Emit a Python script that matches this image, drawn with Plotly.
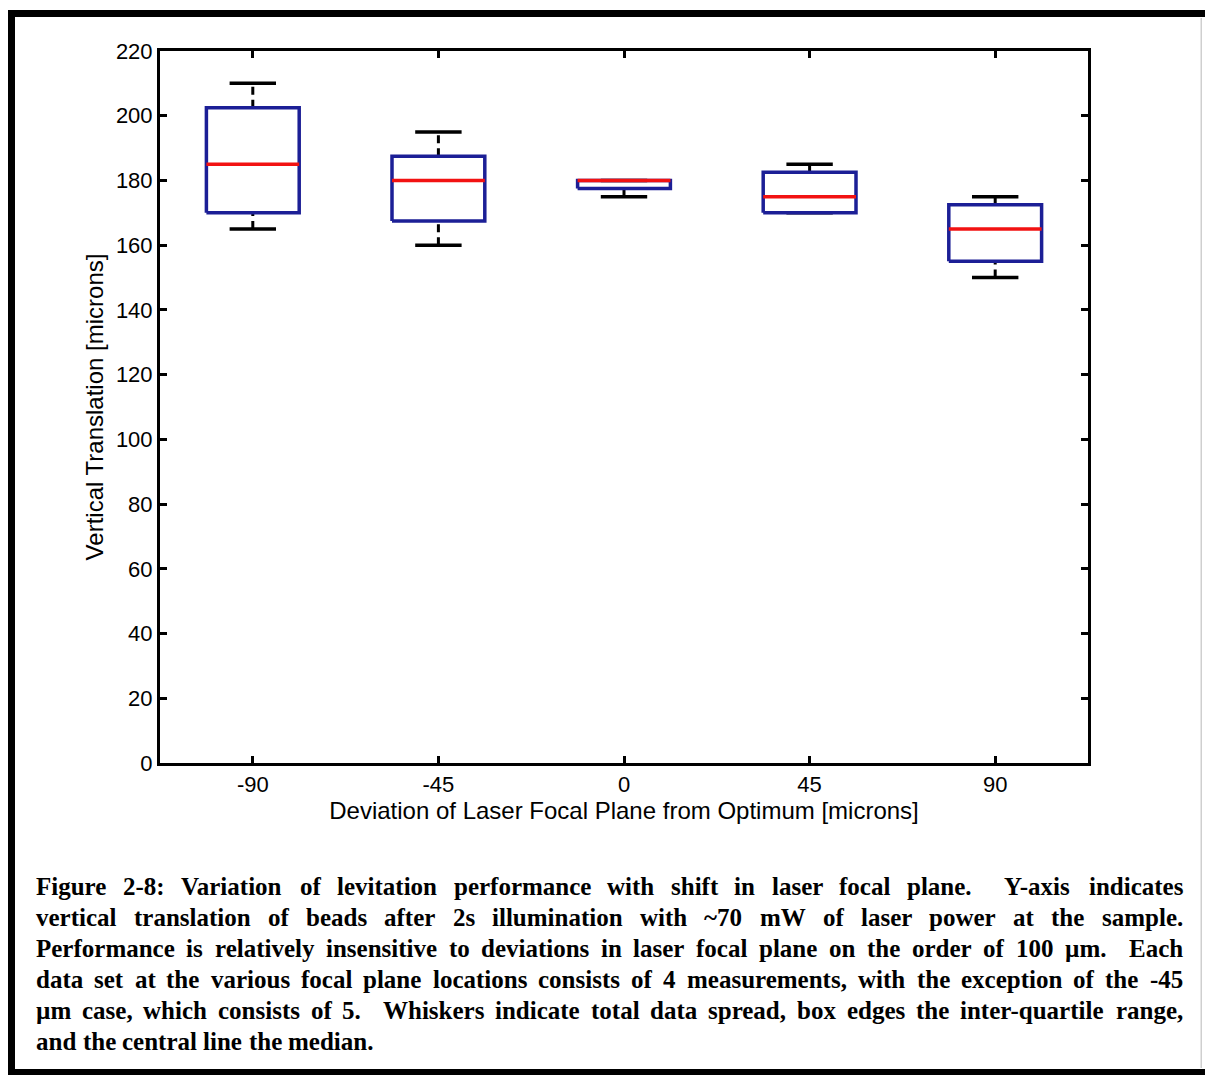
import plotly.graph_objects as go

# ---------------- data ----------------
positions = ["-90", "-45", "0", "45", "90"]
lower_whisker = [165, 160, 175, 170, 150]
q1 = [170, 167.5, 177.5, 170, 155]
median = [185, 180, 180, 175, 165]
q3 = [202.5, 187.5, 180, 182.5, 172.5]
upper_whisker = [210, 195, 180, 185, 175]

y_ticks = [0, 20, 40, 60, 80, 100, 120, 140, 160, 180, 200, 220]

x_title = "Deviation of Laser Focal Plane from Optimum [microns]"
y_title = "Vertical Translation [microns]"

caption_lines = [
    "Figure 2-8: Variation of levitation performance with shift in laser focal plane.  Y-axis indicates",
    "vertical translation of beads after 2s illumination with ~70 mW of laser power at the sample.",
    "Performance is relatively insensitive to deviations in laser focal plane on the order of 100 \u00b5m.  Each",
    "data set at the various focal plane locations consists of 4 measurements, with the exception of the -45",
    "\u00b5m case, which consists of 5.  Whiskers indicate total data spread, box edges the inter-quartile range,",
    "and the central line the median.",
]

# ---------------- styling / layout constants ----------------
W, H = 1205, 1075
L, R, T, B = 160, 1088, 51, 763          # plot area in page pixels
BOX_HALF = 0.25
CAP_HALF = 0.125
BOX_COLOR = "#1c1f96"
MED_COLOR = "#f21212"
TICK_FONT = dict(family="Liberation Sans, Arial, sans-serif", size=22, color="black")
TITLE_FONT = dict(family="Liberation Sans, Arial, sans-serif", size=24, color="black")


def px_x(p):
    return (p - L) / (R - L)


def px_y(p):
    return (B - p) / (B - T)


fig = go.Figure()
xs = list(range(1, len(positions) + 1))

# whiskers (dashed)
for xc, lw, a, b, uw in zip(xs, lower_whisker, q1, q3, upper_whisker):
    for y0, y1 in ((lw, a), (b, uw)):
        fig.add_trace(go.Scatter(x=[xc, xc], y=[y0, y1], mode="lines",
                                 line=dict(color="black", width=3, dash="8px,5px"),
                                 hoverinfo="skip", showlegend=False))
# caps
for xc, lw, uw in zip(xs, lower_whisker, upper_whisker):
    for yv in (lw, uw):
        fig.add_trace(go.Scatter(x=[xc - CAP_HALF, xc + CAP_HALF], y=[yv, yv], mode="lines",
                                 line=dict(color="black", width=3.5),
                                 hoverinfo="skip", showlegend=False))
# boxes
for xc, a, b in zip(xs, q1, q3):
    fig.add_trace(go.Scatter(
        x=[xc - BOX_HALF, xc + BOX_HALF, xc + BOX_HALF, xc - BOX_HALF, xc - BOX_HALF],
        y=[a, a, b, b, a], mode="lines",
        line=dict(color=BOX_COLOR, width=3.5),
        hoverinfo="skip", showlegend=False))
# medians
for xc, m in zip(xs, median):
    fig.add_trace(go.Scatter(x=[xc - BOX_HALF, xc + BOX_HALF], y=[m, m], mode="lines",
                             line=dict(color=MED_COLOR, width=3.5),
                             hoverinfo="skip", showlegend=False))

axis_common = dict(showline=True, linewidth=3, linecolor="black", mirror="ticks",
                   ticks="inside", ticklen=7, tickwidth=3, tickcolor="black",
                   showgrid=False, zeroline=False, tickfont=TICK_FONT)

fig.update_xaxes(range=[0.5, 5.5], tickvals=xs, ticktext=positions,
                 title=dict(text=x_title, font=TITLE_FONT, standoff=0), **axis_common)
fig.update_yaxes(range=[0, 220], tickvals=y_ticks,
                 title=dict(text=y_title, font=TITLE_FONT, standoff=6), **axis_common)

# ---------------- page frame ----------------
shapes = []
def rect(x0, y0, x1, y1, color="black"):
    shapes.append(dict(type="rect", xref="paper", yref="paper",
                       x0=px_x(x0), x1=px_x(x1), y0=px_y(y0), y1=px_y(y1),
                       fillcolor=color, line=dict(width=0), layer="above"))

rect(8, 10, W, 17)        # top border
rect(8, 10, 15, H)        # left border
rect(8, 1069, W, H)       # bottom border
rect(1200.5, 18, 1202, 1068, "#cfcfcf")  # faint right edge

# ---------------- caption (justified, word by word) ----------------
TB = {' ': 250, '!': 333, ',': 250, '-': 333, '.': 250, ':': 333, '~': 520, '\u00b5': 556}
for d in "0123456789":
    TB[d] = 500
TB.update(dict(A=722, B=667, C=722, D=722, E=667, F=611, G=778, H=778, I=389, J=500, K=778,
               L=667, M=944, N=722, O=778, P=611, Q=778, R=722, S=556, T=667, U=722, V=722,
               W=1000, X=722, Y=722, Z=667,
               a=500, b=556, c=444, d=556, e=444, f=333, g=500, h=556, i=278, j=333, k=556,
               l=278, m=833, n=556, o=500, p=556, q=556, r=444, s=389, t=333, u=556, v=500,
               w=722, x=500, y=500, z=444))

CAP_SIZE = 25
CAP_LEFT, CAP_RIGHT = 36, 1183
CAP_Y0, CAP_DY = 886, 31.1
CAP_FONT = dict(family="Liberation Serif, Times New Roman, serif", size=CAP_SIZE,
                color="black", weight="bold")


def tw(s):
    return sum(TB.get(c, 500) for c in s) * CAP_SIZE / 1000.0


annotations = []
for i, line in enumerate(caption_lines):
    tokens = line.split(' ')
    n_sp = len(tokens) - 1
    sp = tw(' ')
    natural = sum(tw(t) for t in tokens) + n_sp * sp
    last = i == len(caption_lines) - 1
    extra = 0 if (last or n_sp == 0) else (CAP_RIGHT - CAP_LEFT - natural) / n_sp
    xcur = CAP_LEFT
    ycen = CAP_Y0 + i * CAP_DY
    for t in tokens:
        if t:
            annotations.append(dict(text=t, xref="paper", yref="paper",
                                    x=px_x(xcur - 2), y=px_y(ycen),
                                    xanchor="left", yanchor="middle",
                                    showarrow=False, font=CAP_FONT))
        xcur += tw(t) + sp + extra

fig.update_layout(width=W, height=H, margin=dict(l=L, r=W - R, t=T, b=H - B),
                  paper_bgcolor="white", plot_bgcolor="white",
                  shapes=shapes, annotations=annotations, showlegend=False)

fig.write_html("out.html")
